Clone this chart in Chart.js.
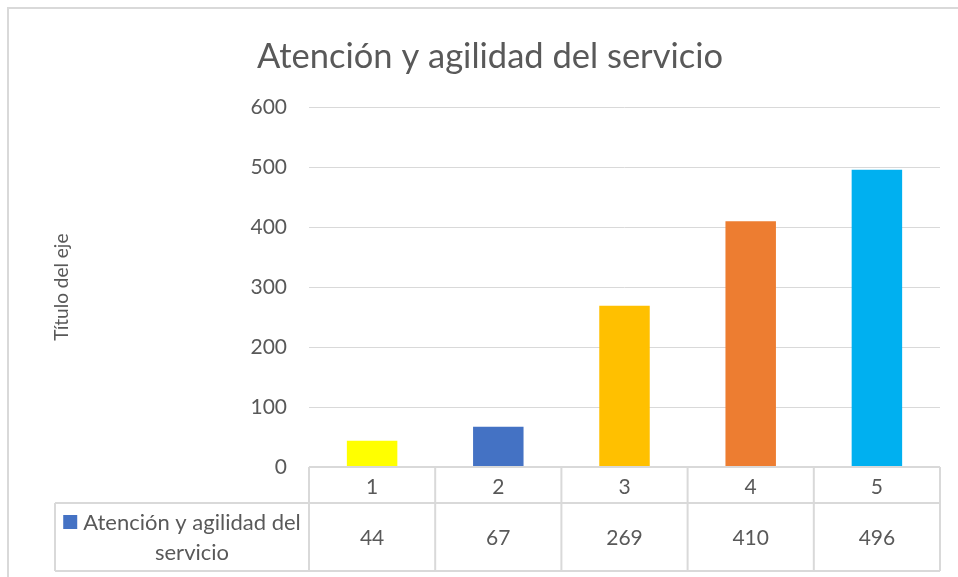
<!DOCTYPE html>
<html>
<head>
<meta charset="utf-8">
<script src="https://cdn.jsdelivr.net/npm/chart.js@4"></script>
<style>
  html, body { margin: 0; padding: 0; background: #fff; }
  #wrap { width: 958px; height: 577px; }
</style>
</head>
<body>
<div id="wrap"><canvas id="myChart"></canvas></div>
<script>
// Chart data
const categories = ['1', '2', '3', '4', '5'];
const values = [44, 67, 269, 410, 496];
const seriesName = 'Atención y agilidad del servicio';
const seriesLines = ['Atención y agilidad del', 'servicio'];

// Colours (one per bar, plus the series colour shown in the table)
const barColors = ['#ffff00', '#4472c4', '#ffc000', '#ed7d31', '#00b0f0'];
const seriesColor = '#4472c4';
const textColor = '#595959';
const lineColor = '#d9d9d9';
const fontFamily = 'Lato, "Open Sans", sans-serif';

// Data table under the plot, drawn like Excel's
const dataTable = {
  id: 'dataTable',
  afterDraw(chart) {
    const { ctx, chartArea: a, scales: { x } } = chart;
    const colW = (a.right - a.left) / categories.length;
    const row1Bottom = a.bottom + 36;
    const row2Bottom = row1Bottom + 68;
    const legendLeft = 55;

    ctx.save();
    ctx.strokeStyle = lineColor;
    ctx.lineWidth = 2;
    const line = (x1, y1, x2, y2) => {
      ctx.beginPath();
      ctx.moveTo(x1, y1);
      ctx.lineTo(x2, y2);
      ctx.stroke();
    };
    line(a.left, a.bottom, a.right, a.bottom);
    line(legendLeft, row1Bottom, a.right, row1Bottom);
    line(legendLeft, row2Bottom, a.right, row2Bottom);
    line(legendLeft, row1Bottom, legendLeft, row2Bottom);
    for (let i = 0; i <= categories.length; i++) {
      const xp = a.left + i * colW;
      line(xp, a.bottom, xp, row2Bottom);
    }

    // outer chart border
    ctx.strokeRect(8, 8, 1000, 1000);

    ctx.fillStyle = textColor;
    ctx.font = '21px ' + fontFamily;
    ctx.textAlign = 'center';
    ctx.textBaseline = 'middle';
    values.forEach((v, i) => {
      ctx.fillText(String(v), x.getPixelForValue(i), row1Bottom + 35);
    });

    // legend cell
    const cx = 192;
    ctx.font = '22px ' + fontFamily;
    ctx.fillText(seriesLines[0], cx, row1Bottom + 19.5);
    ctx.fillText(seriesLines[1], cx, row1Bottom + 49.5);
    const w = ctx.measureText(seriesLines[0]).width;
    ctx.fillStyle = seriesColor;
    ctx.fillRect(cx - w / 2 - 20, row1Bottom + 12, 14, 14);
    ctx.restore();
  }
};

const ctx = document.getElementById('myChart').getContext('2d');

const chart = new Chart(ctx, {
  type: 'bar',
  data: {
    labels: categories,
    datasets: [{
      label: seriesName,
      data: values,
      backgroundColor: barColors,
      borderWidth: 0,
      barPercentage: 0.4,
      categoryPercentage: 1
    }]
  },
  options: {
    responsive: true,
    maintainAspectRatio: false,
    animation: false,
    layout: { padding: { left: 40, right: 18, top: 0, bottom: 0 } },
    plugins: {
      legend: { display: false },
      tooltip: { enabled: false },
      title: {
        display: true,
        text: seriesName,
        color: textColor,
        font: { family: fontFamily, size: 34.5, weight: 'normal' },
        padding: { top: 36, bottom: 30 }
      }
    },
    scales: {
      x: {
        grid: { display: false },
        border: { display: false },
        ticks: {
          color: textColor,
          font: { family: fontFamily, size: 21 },
          padding: 0,
          maxRotation: 0
        },
        afterFit(scale) { scale.height = 110; }
      },
      y: {
        min: 0,
        max: 600,
        grid: { color: lineColor, lineWidth: 1, drawTicks: false },
        border: { display: false },
        ticks: {
          stepSize: 100,
          color: textColor,
          font: { family: fontFamily, size: 21 },
          padding: 22
        },
        title: {
          display: true,
          text: 'Título del eje',
          color: textColor,
          font: { family: fontFamily, size: 19 },
          padding: { top: 10, bottom: 0 }
        },
        afterFit(scale) { scale.width = 269; }
      }
    }
  },
  plugins: [dataTable]
});
</script>
</body>
</html>
